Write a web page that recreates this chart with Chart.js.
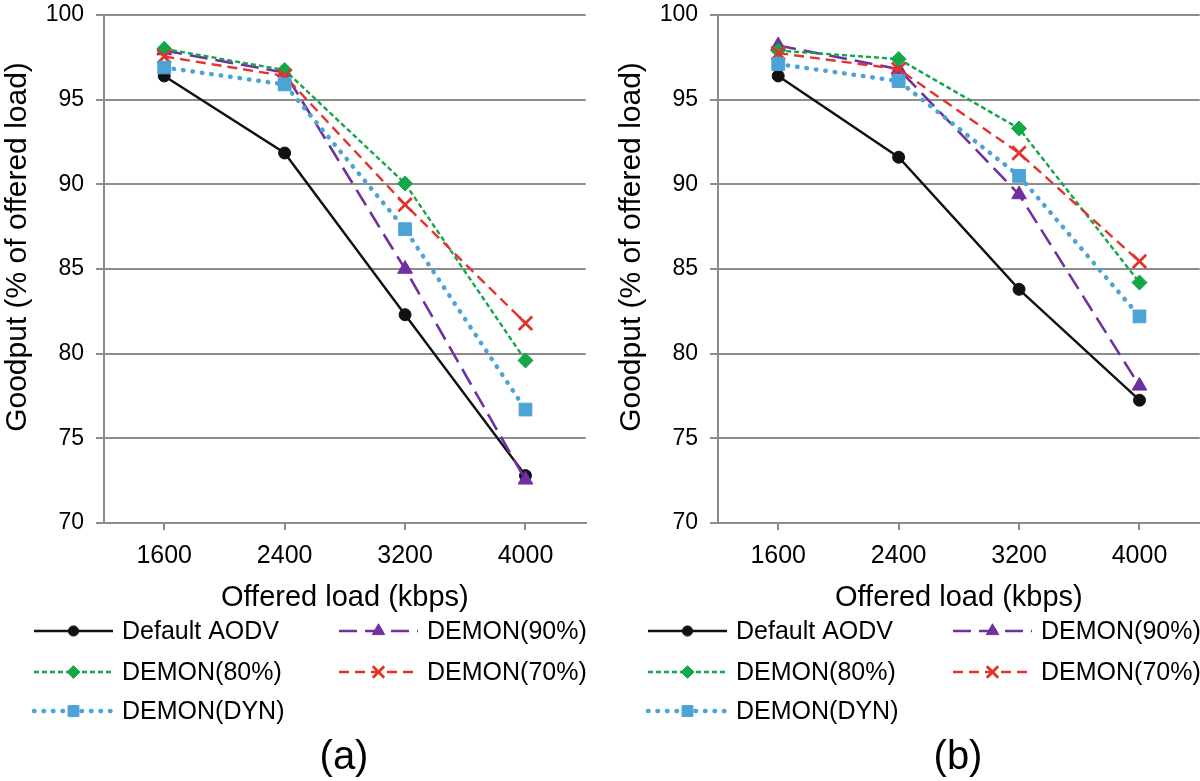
<!DOCTYPE html>
<html>
<head>
<meta charset="utf-8">
<script src="https://cdn.jsdelivr.net/npm/chart.js@4.4.1/dist/chart.umd.min.js"></script>
<style>
  html, body { margin: 0; padding: 0; background: #fff; }
  #wrap { position: relative; width: 1200px; height: 781px; overflow: hidden; }
  canvas { position: absolute; top: 0; }
  #chart-a { left: 0; }
  #chart-b { left: 614px; }
</style>
</head>
<body>
<div id="wrap">
  <canvas id="chart-a" width="598" height="781" style="width:598px;height:781px"></canvas>
  <canvas id="chart-b" width="598" height="781" style="width:598px;height:781px"></canvas>
</div>
<script>
var loads = ['1600', '2400', '3200', '4000'];
var seriesNames = ['Default AODV', 'DEMON(90%)', 'DEMON(80%)', 'DEMON(70%)', 'DEMON(DYN)'];

// (a)
var aodvA    = [96.4, 91.85, 82.3, 72.8];
var demon90A = [97.9, 96.6, 85.0, 72.55];
var demon80A = [98.0, 96.75, 90.05, 79.6];
var demon70A = [97.55, 96.4, 88.8, 81.8];
var dynA     = [96.9, 95.9, 87.35, 76.7];

// (b)
var aodvB    = [96.4, 91.6, 83.8, 77.25];
var demon90B = [98.2, 96.8, 89.4, 78.1];
var demon80B = [97.9, 97.4, 93.3, 84.2];
var demon70B = [97.75, 96.8, 91.85, 85.45];
var dynB     = [97.1, 96.1, 90.5, 82.2];

var FONT = "'Liberation Sans', Arial, sans-serif";
var GRID = '#8c8c8c';

// looks of each series, same order as seriesNames
var looks = [
  { color: '#111111', width: 2.4, dash: [],       cap: 'butt',  point: 'circle',   r: 6,   pbw: 1 },
  { color: '#7030a0', width: 2.6, dash: [18, 8],  cap: 'butt',  point: 'triangle', r: 8.5, pbw: 1 },
  { color: '#12a84a', width: 2.4, dash: [5, 3],   cap: 'butt',  point: 'rectRot',  r: 7.5, pbw: 1 },
  { color: '#e2332c', width: 2.4, dash: [10, 6],  cap: 'butt',  point: 'crossRot', r: 9.5, pbw: 2.8 },
  { color: '#4ba3d6', width: 4.5, dash: [0.5, 9], cap: 'round', point: 'rect',     r: 9,   pbw: 1 }
];
// drawing order: later series sit on top, as in the source
var drawOrder = [5, 4, 3, 2, 1];

// legend slots (sample line start x, row y) inside each canvas
var legendSpots = [[34, 631], [339, 631], [34, 672], [339, 672], [34, 711]];

var extras = {
  id: 'extras',
  afterDraw: function (chart, args, opts) {
    var ctx = chart.ctx;
    ctx.save();
    ctx.fillStyle = '#000';
    ctx.font = '30px ' + FONT;
    ctx.textAlign = 'center';
    ctx.textBaseline = 'middle';
    ctx.translate(18, 247);
    ctx.rotate(-Math.PI / 2);
    ctx.fillText('Goodput (% of offered load)', 0, 0);
    ctx.restore();

    chart.data.datasets.forEach(function (ds, i) {
      var x = legendSpots[i][0], y = legendSpots[i][1];
      ctx.save();
      ctx.strokeStyle = ds.borderColor;
      ctx.lineWidth = ds.borderWidth;
      ctx.setLineDash(ds.borderDash);
      ctx.lineCap = ds.borderCapStyle;
      ctx.beginPath();
      ctx.moveTo(x, y);
      ctx.lineTo(x + 79, y);
      ctx.stroke();
      ctx.setLineDash([]);
      ctx.lineCap = 'butt';
      ctx.fillStyle = ds.pointBackgroundColor;
      ctx.strokeStyle = ds.pointBorderColor;
      ctx.lineWidth = ds.pointBorderWidth;
      Chart.helpers.drawPoint(ctx, {
        pointStyle: ds.pointStyle, radius: ds.pointRadius * 0.85,
        rotation: 0, borderWidth: ds.pointBorderWidth
      }, x + 39.5, y);
      ctx.fillStyle = '#000';
      ctx.font = '25px ' + FONT;
      ctx.textAlign = 'left';
      ctx.textBaseline = 'middle';
      ctx.fillText(ds.label, x + 88, y + 1);
      ctx.restore();
    });

    ctx.save();
    ctx.fillStyle = '#000';
    ctx.font = '40px ' + FONT;
    ctx.textAlign = 'center';
    ctx.textBaseline = 'middle';
    ctx.fillText(opts.caption, 344, 758);
    ctx.restore();
  }
};

function makeChart(id, values, caption) {
  var datasets = values.map(function (v, i) {
    var l = looks[i];
    return {
      label: seriesNames[i],
      data: v,
      order: drawOrder[i],
      borderColor: l.color,
      borderWidth: l.width,
      borderDash: l.dash,
      borderCapStyle: l.cap,
      tension: 0,
      fill: false,
      pointStyle: l.point,
      pointRadius: l.r,
      pointBackgroundColor: l.color,
      pointBorderColor: l.color,
      pointBorderWidth: l.pbw
    };
  });

  return new Chart(document.getElementById(id).getContext('2d'), {
    type: 'line',
    data: { labels: loads, datasets: datasets },
    plugins: [extras],
    options: {
      responsive: false,
      animation: false,
      layout: { padding: { top: 15, right: 1, left: 0, bottom: 166 } },
      plugins: {
        legend: { display: false },
        tooltip: { enabled: false },
        extras: { caption: caption }
      },
      scales: {
        x: {
          offset: true,
          grid: { offset: false, drawOnChartArea: false, color: GRID, lineWidth: 2, tickLength: 7 },
          border: { color: GRID, width: 2 },
          ticks: { color: '#000', font: { family: FONT, size: 25 }, padding: 11, maxRotation: 0 },
          title: { display: true, text: 'Offered load (kbps)', color: '#000',
                   font: { family: FONT, size: 29 }, padding: { top: 0, bottom: 0 } },
          afterFit: function (s) { s.height = 92; s.paddingLeft = 0; s.paddingRight = 0; }
        },
        y: {
          min: 70, max: 100,
          ticks: { stepSize: 5, color: '#000', font: { family: FONT, size: 23 }, padding: 12 },
          grid: { color: GRID, lineWidth: 2, tickLength: 8 },
          border: { color: GRID, width: 2 },
          afterFit: function (s) { s.width = 104; s.paddingTop = 0; s.paddingBottom = 0; }
        }
      }
    }
  });
}

makeChart('chart-a', [aodvA, demon90A, demon80A, demon70A, dynA], '(a)');
makeChart('chart-b', [aodvB, demon90B, demon80B, demon70B, dynB], '(b)');
</script>
</body>
</html>
